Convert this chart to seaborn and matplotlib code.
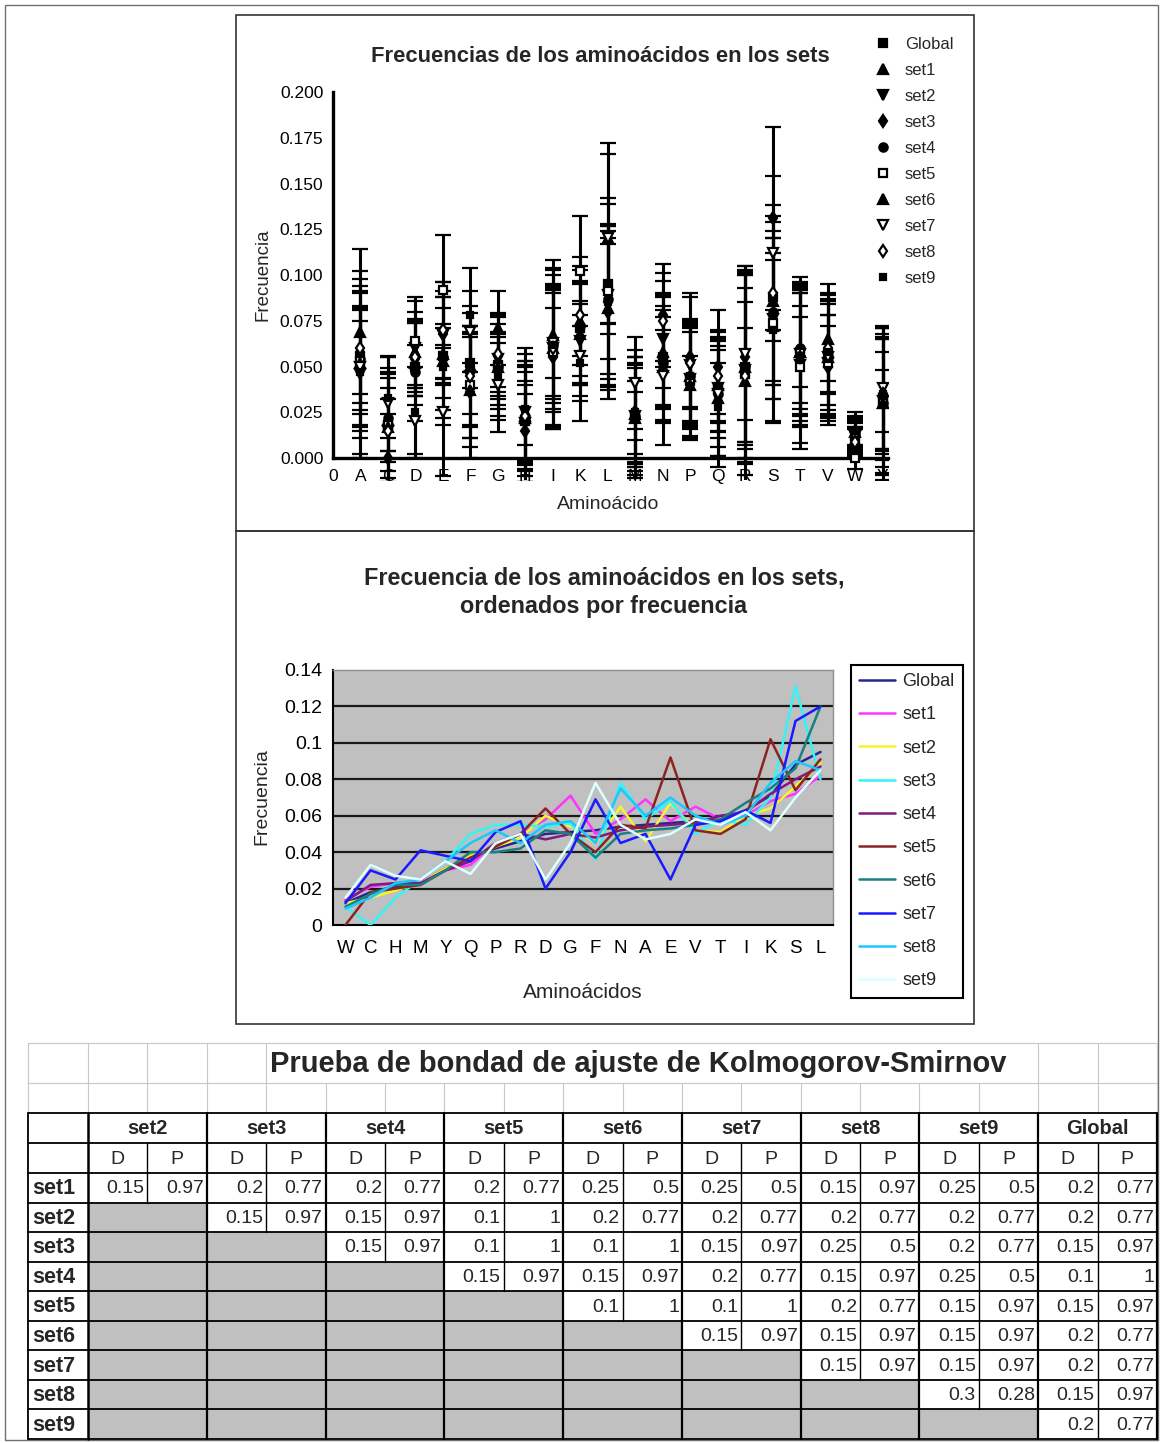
import numpy as np
import pandas as pd
import matplotlib
matplotlib.use("Agg")
import matplotlib.pyplot as plt
import seaborn as sns
from matplotlib.lines import Line2D
from matplotlib.patches import Rectangle
from matplotlib.ticker import FormatStrFormatter

# ---------------------------------------------------------------- data
series = ["Global", "set1", "set2", "set3", "set4", "set5", "set6", "set7", "set8", "set9"]

# amino acids ordered by frequency (second chart)
orden = ["W", "C", "H", "M", "Y", "Q", "P", "R", "D", "G",
         "F", "N", "A", "E", "V", "T", "I", "K", "S", "L"]

f_global = [0.012, 0.018, 0.021, 0.023, 0.031, 0.038, 0.042, 0.046, 0.050, 0.051,
            0.052, 0.054, 0.055, 0.056, 0.057, 0.058, 0.063, 0.071, 0.088, 0.095]
f_set1 = [0.014, 0.021, 0.023, 0.024, 0.030, 0.033, 0.045, 0.050, 0.058, 0.071,
          0.050, 0.058, 0.069, 0.057, 0.065, 0.058, 0.060, 0.068, 0.072, 0.082]
f_set2 = [0.012, 0.015, 0.019, 0.023, 0.031, 0.038, 0.043, 0.048, 0.060, 0.054,
          0.045, 0.065, 0.046, 0.067, 0.052, 0.051, 0.060, 0.064, 0.076, 0.089]
f_set3 = [0.010, 0.000, 0.015, 0.025, 0.035, 0.050, 0.055, 0.055, 0.054, 0.056,
          0.036, 0.078, 0.058, 0.068, 0.050, 0.058, 0.055, 0.070, 0.131, 0.080]
f_set4 = [0.013, 0.022, 0.023, 0.023, 0.030, 0.035, 0.045, 0.050, 0.047, 0.050,
          0.048, 0.052, 0.054, 0.055, 0.056, 0.060, 0.062, 0.072, 0.080, 0.087]
f_set5 = [0.000, 0.018, 0.020, 0.022, 0.030, 0.037, 0.043, 0.050, 0.064, 0.050,
          0.040, 0.055, 0.053, 0.092, 0.052, 0.050, 0.058, 0.102, 0.074, 0.091]
f_set6 = [0.010, 0.017, 0.022, 0.022, 0.030, 0.040, 0.040, 0.042, 0.052, 0.050,
          0.037, 0.050, 0.052, 0.053, 0.055, 0.058, 0.067, 0.075, 0.086, 0.120]
f_set7 = [0.012, 0.030, 0.025, 0.041, 0.038, 0.035, 0.051, 0.057, 0.020, 0.040,
          0.069, 0.045, 0.050, 0.025, 0.055, 0.057, 0.063, 0.056, 0.112, 0.120]
f_set8 = [0.009, 0.015, 0.023, 0.025, 0.035, 0.045, 0.052, 0.045, 0.055, 0.057,
          0.045, 0.075, 0.060, 0.070, 0.060, 0.055, 0.060, 0.078, 0.090, 0.085]
f_set9 = [0.015, 0.033, 0.027, 0.025, 0.035, 0.028, 0.045, 0.050, 0.025, 0.045,
          0.078, 0.055, 0.047, 0.050, 0.058, 0.055, 0.062, 0.052, 0.070, 0.085]
freqs = [f_global, f_set1, f_set2, f_set3, f_set4, f_set5, f_set6, f_set7, f_set8, f_set9]

# alphabetical order (first chart) and error bar half-widths per set
alfabeto = ["A", "C", "D", "E", "F", "G", "H", "I", "K", "L",
            "M", "N", "P", "Q", "R", "S", "T", "V", "W", "Y"]
e_global = [0.020, 0.014, 0.012, 0.015, 0.014, 0.012, 0.014, 0.019, 0.015, 0.022,
            0.013, 0.016, 0.014, 0.014, 0.025, 0.024, 0.019, 0.015, 0.005, 0.017]
e_set1 = [0.045, 0.028, 0.022, 0.031, 0.033, 0.020, 0.027, 0.043, 0.028, 0.045,
          0.031, 0.030, 0.027, 0.032, 0.050, 0.052, 0.038, 0.030, 0.008, 0.035]
e_set2 = [0.035, 0.031, 0.026, 0.024, 0.027, 0.025, 0.032, 0.035, 0.033, 0.050,
          0.026, 0.036, 0.031, 0.027, 0.057, 0.044, 0.043, 0.034, 0.009, 0.040]
e_set3 = [0.040, 0.024, 0.020, 0.028, 0.036, 0.022, 0.025, 0.039, 0.025, 0.040,
          0.034, 0.028, 0.035, 0.031, 0.046, 0.050, 0.035, 0.028, 0.007, 0.031]
e_set4 = [0.028, 0.033, 0.027, 0.033, 0.024, 0.027, 0.030, 0.030, 0.031, 0.055,
          0.028, 0.025, 0.026, 0.034, 0.052, 0.040, 0.030, 0.033, 0.010, 0.042]
e_set5 = [0.038, 0.020, 0.024, 0.030, 0.029, 0.018, 0.022, 0.042, 0.030, 0.037,
          0.020, 0.034, 0.033, 0.022, 0.043, 0.055, 0.045, 0.026, 0.006, 0.028]
e_set6 = [0.050, 0.030, 0.023, 0.020, 0.031, 0.023, 0.035, 0.037, 0.035, 0.046,
          0.033, 0.031, 0.029, 0.026, 0.058, 0.046, 0.041, 0.031, 0.009, 0.038]
e_set7 = [0.033, 0.026, 0.018, 0.035, 0.022, 0.026, 0.028, 0.045, 0.022, 0.052,
          0.025, 0.038, 0.024, 0.029, 0.048, 0.042, 0.033, 0.035, 0.008, 0.033]
e_set8 = [0.030, 0.029, 0.021, 0.026, 0.034, 0.021, 0.024, 0.033, 0.027, 0.042,
          0.030, 0.022, 0.036, 0.025, 0.040, 0.048, 0.037, 0.024, 0.007, 0.030]
e_set9 = [0.047, 0.022, 0.025, 0.032, 0.026, 0.024, 0.033, 0.028, 0.032, 0.039,
          0.027, 0.035, 0.028, 0.033, 0.053, 0.038, 0.028, 0.029, 0.010, 0.036]
errors = [e_global, e_set1, e_set2, e_set3, e_set4, e_set5, e_set6, e_set7, e_set8, e_set9]

# Kolmogorov-Smirnov table: row set -> (D, P) against set2..set9, Global
ks_cols = ["set2", "set3", "set4", "set5", "set6", "set7", "set8", "set9", "Global"]
ks_rows = ["set1", "set2", "set3", "set4", "set5", "set6", "set7", "set8", "set9"]
ks_D = [
    [0.15, 0.2, 0.2, 0.2, 0.25, 0.25, 0.15, 0.25, 0.2],
    [None, 0.15, 0.15, 0.1, 0.2, 0.2, 0.2, 0.2, 0.2],
    [None, None, 0.15, 0.1, 0.1, 0.15, 0.25, 0.2, 0.15],
    [None, None, None, 0.15, 0.15, 0.2, 0.15, 0.25, 0.1],
    [None, None, None, None, 0.1, 0.1, 0.2, 0.15, 0.15],
    [None, None, None, None, None, 0.15, 0.15, 0.15, 0.2],
    [None, None, None, None, None, None, 0.15, 0.15, 0.2],
    [None, None, None, None, None, None, None, 0.3, 0.15],
    [None, None, None, None, None, None, None, None, 0.2],
]
ks_P = [
    [0.97, 0.77, 0.77, 0.77, 0.5, 0.5, 0.97, 0.5, 0.77],
    [None, 0.97, 0.97, 1, 0.77, 0.77, 0.77, 0.77, 0.77],
    [None, None, 0.97, 1, 1, 0.97, 0.5, 0.77, 0.97],
    [None, None, None, 0.97, 0.97, 0.77, 0.97, 0.5, 1],
    [None, None, None, None, 1, 1, 0.77, 0.97, 0.97],
    [None, None, None, None, None, 0.97, 0.97, 0.97, 0.77],
    [None, None, None, None, None, None, 0.97, 0.97, 0.77],
    [None, None, None, None, None, None, None, 0.28, 0.97],
    [None, None, None, None, None, None, None, None, 0.77],
]

# ---------------------------------------------------------------- styling
line_colors = ["#26268c", "#ff33ff", "#f5f52e", "#33f5f5", "#801a80",
               "#8c2222", "#1a8080", "#1a1aff", "#19c8ff", "#dcffff"]
marker_style = [("s", "black", 6), ("^", "black", 6.5), ("v", "black", 6.5),
                ("d", "black", 6.5), ("o", "black", 6), ("s", "white", 6),
                ("^", "black", 7), ("v", "white", 6.5), ("d", "white", 6.5),
                ("s", "black", 4.5)]

W, H = 1163, 1443
sns.set_theme(style="white")
plt.rcParams["font.family"] = ["Liberation Sans", "DejaVu Sans"]
plt.rcParams["axes.unicode_minus"] = False

fig = plt.figure(figsize=(W / 100, H / 100), dpi=100)
fig.patch.set_facecolor("white")


def frac(x0, y0, x1, y1):
    return [x0 / W, 1 - y1 / H, (x1 - x0) / W, (y1 - y0) / H]


def fx(x):
    return x / W


def fy(y):
    return 1 - y / H


# page canvas in pixel units: frames and the table
bg = fig.add_axes([0, 0, 1, 1])
bg.set_xlim(0, W)
bg.set_ylim(H, 0)
bg.axis("off")
bg.set_zorder(0)
bg.add_patch(Rectangle((5, 5), 1153, 1435, fill=False, ec="#707070", lw=1.0))
bg.add_patch(Rectangle((236, 15), 738, 516, fill=False, ec="#333333", lw=1.2))
bg.add_patch(Rectangle((236, 531), 738, 493, fill=False, ec="#333333", lw=1.2))

# ---------------------------------------------------------------- chart 1
ax1 = fig.add_axes(frac(333, 92, 888, 480))
ax1.set_zorder(2)
ax1.patch.set_alpha(0)
pos = np.arange(1, len(alfabeto) + 1)
for k, name in enumerate(series):
    vals = [freqs[k][orden.index(a)] for a in alfabeto]
    m, fc, ms = marker_style[k]
    ax1.errorbar(pos, vals, yerr=errors[k], fmt=m, color="black", mfc=fc, mec="black",
                 mew=1.6, ms=ms, elinewidth=2.2, capsize=5.5, capthick=2.2, zorder=3)
ax1.set_xlim(0, 20.2)
ax1.set_ylim(-0.012, 0.2)
for s in ("top", "right"):
    ax1.spines[s].set_visible(False)
ax1.spines["left"].set_bounds(0, 0.2)
ax1.spines["bottom"].set_position(("data", 0))
for s in ("left", "bottom"):
    ax1.spines[s].set_color("black")
    ax1.spines[s].set_linewidth(2.4)
ax1.set_yticks(np.arange(0, 0.2001, 0.025))
ax1.yaxis.set_major_formatter(FormatStrFormatter("%.3f"))
ax1.tick_params(axis="y", direction="out", length=5, width=2.2, colors="black",
                labelsize=12.5, pad=2)
ax1.set_xticks(range(len(alfabeto) + 1))
ax1.set_xticklabels(["0"] + alfabeto)
ax1.tick_params(axis="x", length=0, pad=8, labelsize=12.5, colors="black")
ax1.set_xlabel("")
ax1.set_ylabel("")
fig.text(fx(600), fy(57), "Frecuencias de los aminoácidos en los sets",
         ha="center", va="center", fontsize=15.8, weight="bold")
fig.text(fx(263), fy(275), "Frecuencia", rotation=90, ha="center", va="center", fontsize=13.5)
fig.text(fx(608), fy(505), "Aminoácido", ha="center", va="center", fontsize=14)

h1 = [Line2D([], [], ls="none", marker=m, color="black", mfc=fc, mec="black", mew=1.6, ms=ms)
      for (m, fc, ms) in marker_style]
fig.legend(h1, series, loc="upper left", bbox_to_anchor=(fx(875), fy(37)),
           frameon=False, fontsize=12, labelspacing=0.66, handlelength=1.0,
           handletextpad=0.8, borderpad=0.0, borderaxespad=0)

# ---------------------------------------------------------------- chart 2
rows = []
for name, vals in zip(series, freqs):
    for i, (aa, v) in enumerate(zip(orden, vals)):
        rows.append({"serie": name, "pos": i, "aa": aa, "freq": v})
df2 = pd.DataFrame(rows)

ax2 = fig.add_axes(frac(333, 670, 833, 925))
ax2.set_zorder(2)
ax2.set_facecolor("#c0c0c0")
for yv in np.arange(0.02, 0.121, 0.02):
    ax2.axhline(yv, color="#1a1a1a", lw=1.6, zorder=0.5)
sns.lineplot(data=df2, x="pos", y="freq", hue="serie", hue_order=series,
             palette=dict(zip(series, line_colors)), linewidth=1.8, sort=False,
             estimator=None, legend=False, ax=ax2, zorder=3)
ax2.set_xlim(-0.5, 19.5)
ax2.set_ylim(0, 0.14)
ax2.set_yticks(np.arange(0, 0.1401, 0.02))
ax2.set_yticklabels(["0", "0.02", "0.04", "0.06", "0.08", "0.1", "0.12", "0.14"])
ax2.set_xticks(range(len(orden)))
ax2.set_xticklabels(orden)
ax2.set_xticks(np.arange(-0.5, 19.6, 1), minor=True)
ax2.tick_params(axis="x", which="major", length=0, pad=11, labelsize=13.5, colors="black")
ax2.tick_params(axis="x", which="minor", length=5, width=1.5, direction="out", color="black")
ax2.tick_params(axis="y", length=5, width=1.5, direction="out", colors="black",
                labelsize=14, pad=3)
ax2.set_xlabel("")
ax2.set_ylabel("")
for s in ("left", "bottom"):
    ax2.spines[s].set_color("black")
    ax2.spines[s].set_linewidth(1.5)
for s in ("top", "right"):
    ax2.spines[s].set_color("#909090")
    ax2.spines[s].set_linewidth(1.0)
fig.text(fx(604), fy(592), "Frecuencia de los aminoácidos en los sets,\nordenados por frecuencia",
         ha="center", va="center", fontsize=16.8, weight="bold", linespacing=1.3)
fig.text(fx(262), fy(797), "Frecuencia", rotation=90, ha="center", va="center", fontsize=14)
fig.text(fx(583), fy(993), "Aminoácidos", ha="center", va="center", fontsize=15)

h2 = [Line2D([], [], color=c, lw=1.8) for c in line_colors]
leg2 = fig.legend(h2, series, loc="upper left", bbox_to_anchor=(fx(851), fy(665)),
                  frameon=True, fancybox=False, edgecolor="black", framealpha=1,
                  fontsize=13, labelspacing=0.9, handlelength=2.0, handletextpad=0.4,
                  borderpad=0.45, borderaxespad=0)
leg2.get_frame().set_linewidth(1.5)

# ---------------------------------------------------------------- K-S table
xl = 28
cols = np.linspace(88, 1157, 19)
y_title, y_blank, y_head, y_dp, y_data = 1043, 1083, 1113, 1143, 1173
rows_y = np.linspace(y_data, 1439, len(ks_rows) + 1)
light = "#c8c8c8"

# spreadsheet grid above the table
for yy in (y_title, y_blank):
    bg.plot([xl, cols[-1]], [yy, yy], color=light, lw=0.8)
for xx in [xl] + list(cols):
    bg.plot([xx, xx], [y_blank, y_head], color=light, lw=0.8)
for xx in [xl] + list(cols[:4]) + list(cols[16:]):
    bg.plot([xx, xx], [y_title, y_blank], color=light, lw=0.8)
bg.text(270, (y_title + y_blank) / 2 + 1, "Prueba de bondad de ajuste de Kolmogorov-Smirnov",
        ha="left", va="center", fontsize=21, weight="bold")

# grey cells below the diagonal
for i in range(len(ks_rows)):
    for j in range(len(ks_cols)):
        if ks_D[i][j] is None:
            bg.add_patch(Rectangle((cols[2 * j], rows_y[i]), cols[2 * j + 2] - cols[2 * j],
                                   rows_y[i + 1] - rows_y[i], fc="#c0c0c0", ec="none"))

# borders
for yy in [y_head, y_dp] + list(rows_y):
    bg.plot([xl, cols[-1]], [yy, yy], color="black", lw=1.3)
bg.plot([xl, xl], [y_head, rows_y[-1]], color="black", lw=1.3)
bg.plot([cols[0], cols[0]], [y_head, rows_y[-1]], color="black", lw=1.8)
for j in range(len(ks_cols)):
    bg.plot([cols[2 * j + 2]] * 2, [y_head, rows_y[-1]], color="black", lw=1.6)
    xm = cols[2 * j + 1]
    bg.plot([xm, xm], [y_dp, y_data], color="black", lw=1.0)
    for i in range(len(ks_rows)):
        if ks_D[i][j] is not None:
            bg.plot([xm, xm], [rows_y[i], rows_y[i + 1]], color="black", lw=1.0)

# header texts
for j, name in enumerate(ks_cols):
    bg.text((cols[2 * j] + cols[2 * j + 2]) / 2, (y_head + y_dp) / 2 + 1, name,
            ha="center", va="center", fontsize=14.5, weight="bold")
    bg.text((cols[2 * j] + cols[2 * j + 1]) / 2, (y_dp + y_data) / 2 + 1, "D",
            ha="center", va="center", fontsize=14)
    bg.text((cols[2 * j + 1] + cols[2 * j + 2]) / 2, (y_dp + y_data) / 2 + 1, "P",
            ha="center", va="center", fontsize=14)

# row labels and values
for i, rname in enumerate(ks_rows):
    yc = (rows_y[i] + rows_y[i + 1]) / 2 + 1
    bg.text(xl + 4, yc, rname, ha="left", va="center", fontsize=15.5, weight="bold")
    for j in range(len(ks_cols)):
        if ks_D[i][j] is None:
            continue
        bg.text(cols[2 * j + 1] - 3, yc, f"{ks_D[i][j]:g}", ha="right", va="center", fontsize=14)
        bg.text(cols[2 * j + 2] - 3, yc, f"{ks_P[i][j]:g}", ha="right", va="center", fontsize=14)

fig.savefig("out.png", dpi=100, facecolor="white")
